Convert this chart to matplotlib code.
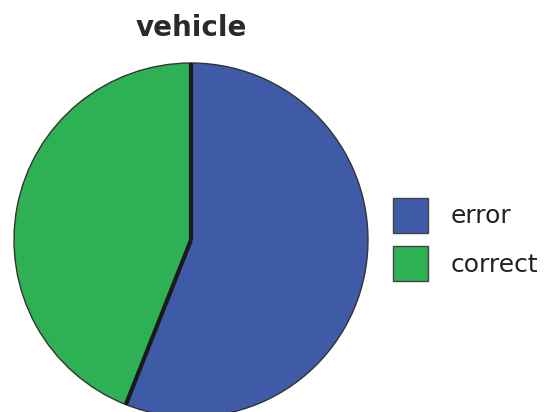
import numpy as np
import matplotlib.pyplot as plt
from matplotlib.patches import Patch

# Anteile fuer "vehicle"
labels = ['error', 'correct']
shares = [0.56, 0.44]
colors = ['#3F5BA8', '#2EB155']

fig = plt.figure(figsize=(5.49, 4.12), dpi=100)
ax = fig.add_axes([14 / 549, -5 / 412, 354 / 549, 354 / 412])

wedges, _ = ax.pie(shares, colors=colors, startangle=90, counterclock=False,
                   radius=1.0, wedgeprops=dict(edgecolor='#333333', linewidth=1.0))

# dicke Trennlinien zwischen den Segmenten
bounds = 90 - 360 * np.concatenate([[0], np.cumsum(shares)[:-1]])
for a in np.deg2rad(bounds):
    ax.plot([0, np.cos(a)], [0, np.sin(a)], color='#1a1a1a', linewidth=3,
            solid_capstyle='butt', zorder=5)

ax.set_xlim(-1.0, 1.0)
ax.set_ylim(-1.0, 1.0)
ax.set_aspect('equal')
ax.axis('off')

fig.text(191 / 549, 1 - 28 / 412, 'vehicle', ha='center', va='center',
         fontsize=20, fontweight='bold', color='#2a2a2a')

handles = [Patch(facecolor=c, edgecolor='#444444', linewidth=1) for c in colors]
fig.legend(handles, labels, loc='upper left', bbox_to_anchor=(393 / 549, 1 - 198 / 412),
           frameon=False, fontsize=18, handlelength=1.4, handleheight=1.75,
           handletextpad=0.9, labelspacing=0.55, borderpad=0, borderaxespad=0,
           labelcolor='#222222')

plt.savefig('out.png', dpi=100)
